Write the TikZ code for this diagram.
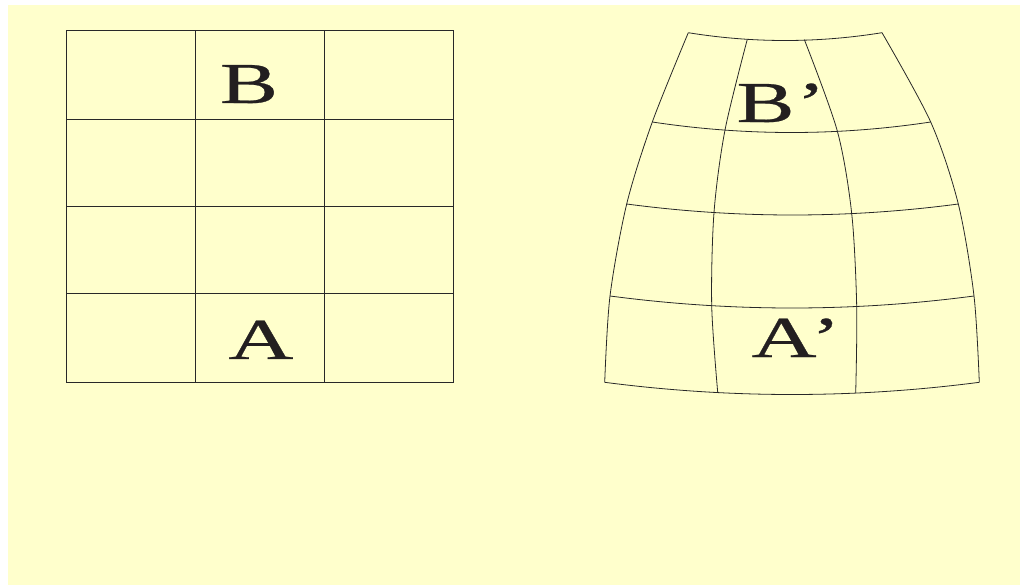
\documentclass[tikz,border=0pt]{standalone}
\usepackage{fontspec}
\usepackage{graphicx}
\usetikzlibrary{calc}
\setmainfont{Liberation Serif}
\newfontfamily\lettfont[FakeBold=0.4]{Liberation Serif}
\definecolor{bgyellow}{RGB}{255,255,204}
\definecolor{inkdark}{RGB}{35,31,32}
\definecolor{gridline}{RGB}{40,40,40}
\begin{document}
\begin{tikzpicture}[x=1pt,y=-1pt,
  gridL/.style={draw=gridline,line width=1pt},
  gridR/.style={draw=gridline,line width=0.8pt},
  letter/.style={inner sep=0pt,anchor=base,text=inkdark,font=\lettfont\fontsize{58}{58}\selectfont}]
\useasboundingbox (0,0) rectangle (1020,585);
\fill[bgyellow] (8,5) rectangle (1020,585);
% left square grid
\coordinate (L00) at (66,31);
\coordinate (L11) at (453,382);
\draw[gridL] (L00) rectangle (L11);
\foreach \x in {195,324}{\draw[gridL] (\x,31) -- (\x,382);}
\foreach \y in {120,207,294}{\draw[gridL] (66,\y) -- (453,\y);}
\node[letter] (B) at (249,103) {\scalebox{1.5}[1]{B}};
\node[letter] (A) at (261,359) {\scalebox{1.55}[1]{A}};
% right distorted grid: rows 0..4, columns 0..3
\coordinate (p00) at (688.3,32.7);  \coordinate (p01) at (747.3,39.3);  \coordinate (p02) at (804.3,39.5);  \coordinate (p03) at (882,32.7);
\coordinate (p10) at (652.3,122);   \coordinate (p11) at (725,130);     \coordinate (p12) at (837.3,131);   \coordinate (p13) at (930.7,122);
\coordinate (p20) at (626.7,204);   \coordinate (p21) at (714,212.5);   \coordinate (p22) at (851.7,213.5); \coordinate (p23) at (958.3,204);
\coordinate (p30) at (610,296);     \coordinate (p31) at (711.7,305.5); \coordinate (p32) at (856.7,306.5); \coordinate (p33) at (974,296);
\coordinate (p40) at (604.7,382.3); \coordinate (p41) at (717.7,392.3); \coordinate (p42) at (855.7,393.2); \coordinate (p43) at (979.3,382.3);
% quadratic control points of the row arcs
\coordinate (c0) at (785,48.3);
\coordinate (c1) at (791.5,143);
\coordinate (c2) at (792.5,226);
\coordinate (c3) at (792,320);
\coordinate (c4) at (792,406.7);
\foreach \r in {0,...,4}{
  \draw[gridR] (p\r0) .. controls ($(p\r0)!0.6667!(c\r)$) and ($(p\r3)!0.6667!(c\r)$) .. (p\r3);
}
\foreach \c in {0,...,3}{
  \draw[gridR] plot[smooth] coordinates {(p0\c) (p1\c) (p2\c) (p3\c) (p4\c)};
}
\node[letter] (Bp) at (781,122) {\scalebox{1.5}[1]{B}\hspace{2pt}\scalebox{1.5}[1]{’}};
\node[letter] (Ap) at (796,357) {\scalebox{1.55}[1]{A}\hspace{-5pt}\scalebox{1.5}[1]{’}};
\end{tikzpicture}
\end{document}
